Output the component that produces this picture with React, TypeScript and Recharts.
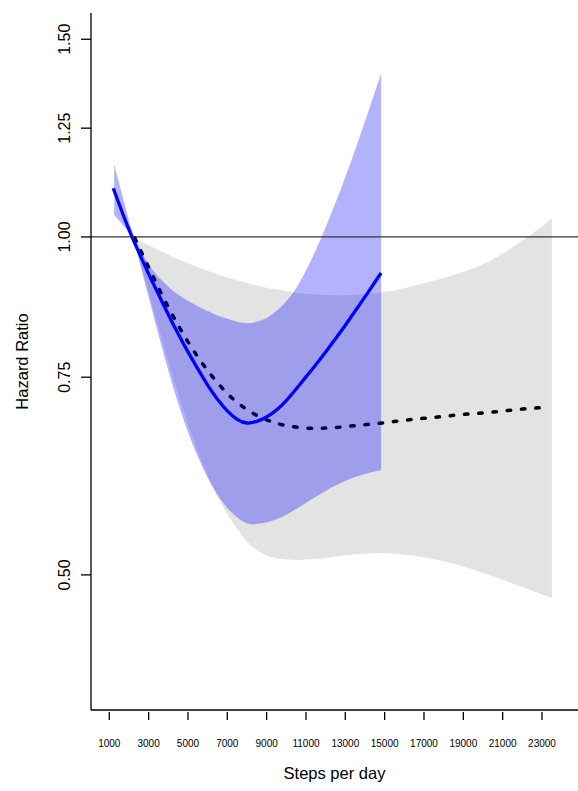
import React from "react";
import { ComposedChart, Area, Line, XAxis, YAxis, ReferenceLine } from "recharts";

// steps per day on the x axis, hazard ratio (log scale) on the y axis
const X_TICKS = [1000, 3000, 5000, 7000, 9000, 11000, 13000, 15000, 17000, 19000, 21000, 23000];
const Y_TICKS = [0.5, 0.75, 1.0, 1.25, 1.5];

// solid blue curve and its confidence band
const blueLineSteps = [1200, 1500, 2000, 2500, 3000, 3500, 4000, 4500, 5000, 5500, 6000, 6500, 7000, 7500, 8000, 8500, 9000, 9500, 10000, 10500, 11000, 11500, 12000, 12500, 13000, 13500, 14000, 14500, 14820];
const blueLineHR = [1.105, 1.07, 1.015, 0.969, 0.927, 0.889, 0.853, 0.82, 0.79, 0.763, 0.738, 0.717, 0.7, 0.688, 0.6828, 0.6851, 0.6912, 0.7011, 0.7149, 0.732, 0.7505, 0.7695, 0.7898, 0.8114, 0.8344, 0.859, 0.8843, 0.9112, 0.9287];

const blueBandSteps = [1250, 1500, 2000, 2250, 2500, 3000, 3500, 4000, 4500, 5000, 5500, 6000, 6500, 7000, 7500, 8000, 8500, 9000, 9500, 10000, 10500, 11000, 11500, 12000, 12500, 13000, 13500, 14000, 14500, 14820];
const blueBandLo = [1.046, 1.034, 1.01, 1.0, 0.956, 0.8843, 0.8187, 0.7603, 0.711, 0.6703, 0.637, 0.6102, 0.5892, 0.5735, 0.5627, 0.5557, 0.5552, 0.5568, 0.5605, 0.5658, 0.5724, 0.5795, 0.5868, 0.5939, 0.6005, 0.6062, 0.6111, 0.6151, 0.6182, 0.6197];
const blueBandHi = [1.159, 1.117, 1.034, 1.0, 0.98, 0.9455, 0.9213, 0.903, 0.8887, 0.8772, 0.8676, 0.859, 0.8513, 0.8454, 0.8403, 0.8378, 0.8403, 0.847, 0.859, 0.8763, 0.9003, 0.9333, 0.9734, 1.0202, 1.0725, 1.1309, 1.196, 1.2674, 1.3458, 1.3993];

// dashed black curve and grey band
const dashSteps = [2300, 2500, 3000, 3500, 4000, 4500, 5000, 5500, 6000, 6500, 7000, 7500, 8000, 8500, 9000, 9500, 10000, 11000, 12000, 13000, 14000, 15000, 16000, 17000, 18000, 19000, 20000, 21000, 22000, 23000];
const dashHR = [0.998, 0.9802, 0.9399, 0.9012, 0.8659, 0.8344, 0.8065, 0.7819, 0.7603, 0.7416, 0.7254, 0.7124, 0.7019, 0.6935, 0.6873, 0.6825, 0.6791, 0.6757, 0.6757, 0.6777, 0.6805, 0.6832, 0.6866, 0.6894, 0.6921, 0.6949, 0.697, 0.6998, 0.7026, 0.7047];

const greyBandSteps = [2250, 2500, 3000, 3500, 4000, 4500, 5000, 5500, 6000, 6500, 7000, 7500, 8000, 8500, 9000, 9500, 10000, 10500, 11000, 12000, 13000, 14000, 15000, 16000, 17000, 18000, 19000, 20000, 21000, 22000, 23000, 23500];
const greyBandLo = [1.0, 0.96, 0.893, 0.8309, 0.774, 0.7238, 0.681, 0.6446, 0.6137, 0.5879, 0.5666, 0.5493, 0.5357, 0.5262, 0.5204, 0.5173, 0.516, 0.5156, 0.5161, 0.5177, 0.5205, 0.5223, 0.5226, 0.5213, 0.5184, 0.5143, 0.5086, 0.502, 0.4951, 0.4877, 0.4805, 0.4767];
const greyBandHi = [1.0, 0.993, 0.9831, 0.9734, 0.9642, 0.9555, 0.9474, 0.9399, 0.9329, 0.9264, 0.9204, 0.9148, 0.9098, 0.9053, 0.9012, 0.8976, 0.8945, 0.8918, 0.89, 0.8878, 0.8874, 0.8896, 0.8932, 0.9003, 0.9094, 0.9194, 0.9305, 0.9455, 0.9666, 0.992, 1.0222, 1.0398];

const blueLine = blueLineSteps.map((step, i) => ({ step, hr: blueLineHR[i] }));
const blueBand = blueBandSteps.map((step, i) => ({ step, band: [blueBandLo[i], blueBandHi[i]] }));
const dashLine = dashSteps.map((step, i) => ({ step, hr: dashHR[i] }));
const greyBand = greyBandSteps.map((step, i) => ({ step, band: [greyBandLo[i], greyBandHi[i]] }));

// the blue band pinches to 1.0 at 2250 steps; split there so the spline doesn't overshoot
const PINCH = blueBandSteps.indexOf(2250);
const blueBandLeft = blueBand.slice(0, PINCH + 1);
const blueBandRight = blueBand.slice(PINCH);

const FONT = "'Liberation Sans', Arial, sans-serif";

const XTick = ({ x, y, payload }: { x?: number; y?: number; payload?: { value: number } }) => (
  <g>
    <line x1={x} x2={x} y1={(y ?? 0) + 2} y2={(y ?? 0) + 10} stroke="#000" strokeWidth={1.3} />
    <text x={x} y={(y ?? 0) + 36.5} textAnchor="middle" fontSize={10} fill="#000" fontFamily={FONT}>
      {payload?.value}
    </text>
  </g>
);

const YTick = ({ x, y, payload }: { x?: number; y?: number; payload?: { value: number } }) => {
  const tx = (x ?? 0) - 21;
  return (
    <g>
      <line x1={(x ?? 0) - 10} x2={x} y1={y} y2={y} stroke="#000" strokeWidth={1.3} />
      <text x={tx} y={y} transform={`rotate(-90 ${tx} ${y})`} textAnchor="middle" fontSize={16} fill="#000" fontFamily={FONT}>
        {payload?.value.toFixed(2)}
      </text>
    </g>
  );
};

export default function App() {
  return (
    <div style={{ position: "absolute", left: 0, top: 0, width: 578, height: 791, background: "#fff", fontFamily: FONT }}>
      <ComposedChart width={578} height={791} margin={{ top: 13, right: 0, bottom: 0, left: 0 }}>
        <XAxis
          type="number"
          dataKey="step"
          domain={[70, 24830]}
          allowDataOverflow
          ticks={X_TICKS}
          interval={0}
          height={81}
          tickSize={0}
          tickMargin={0}
          tickLine={false}
          axisLine={{ stroke: "#000", strokeWidth: 1.3 }}
          tick={<XTick />}
        />
        <YAxis
          type="number"
          scale="log"
          domain={[0.379, 1.583]}
          allowDataOverflow
          ticks={Y_TICKS}
          interval={0}
          width={91}
          tickSize={0}
          tickMargin={0}
          tickLine={false}
          axisLine={{ stroke: "#000", strokeWidth: 1.3 }}
          tick={<YTick />}
        />
        <Area data={greyBand} dataKey="band" type="natural" stroke="none" fill="#e3e3e3" fillOpacity={1} isAnimationActive={false} zIndex={100} />
        <Line data={dashLine} dataKey="hr" type="natural" stroke="#000" strokeWidth={3.5} strokeDasharray="3.5 10.8" strokeLinecap="round" dot={false} activeDot={false} isAnimationActive={false} zIndex={110} />
        <Area data={blueBandLeft} dataKey="band" type="linear" stroke="none" fill="#0000ff" fillOpacity={0.3} isAnimationActive={false} zIndex={120} />
        <Area data={blueBandRight} dataKey="band" type="natural" stroke="none" fill="#0000ff" fillOpacity={0.3} isAnimationActive={false} zIndex={120} />
        <Line data={blueLine} dataKey="hr" type="natural" stroke="#0000ff" strokeWidth={3.3} dot={false} activeDot={false} isAnimationActive={false} zIndex={130} />
        <ReferenceLine y={1} stroke="#333" strokeWidth={1.2} zIndex={140} />
        <text x={334.5} y={779} textAnchor="middle" fontSize={16.5} fill="#000" fontFamily={FONT}>Steps per day</text>
        <text x={27.5} y={361.5} transform="rotate(-90 27.5 361.5)" textAnchor="middle" fontSize={16.5} fill="#000" fontFamily={FONT}>Hazard Ratio</text>
      </ComposedChart>
    </div>
  );
}
